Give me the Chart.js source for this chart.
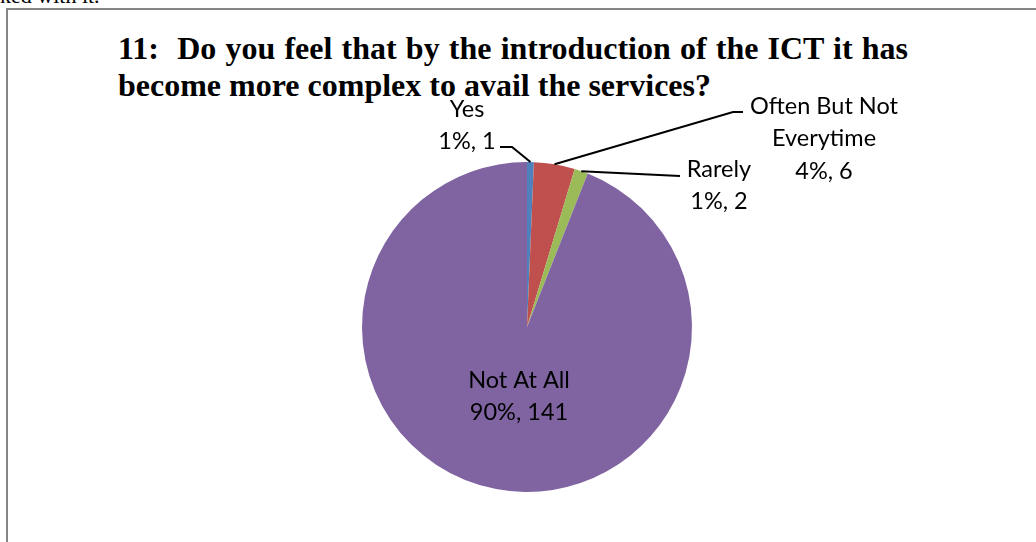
<!DOCTYPE html>
<html>
<head>
<meta charset="utf-8">
<script src="https://cdn.jsdelivr.net/npm/chart.js@4"></script>
<style>
    body { margin: 0; width: 1036px; height: 542px; overflow: hidden; background: #fff; position: relative; }
    #clipped { position: absolute; left: 0; top: -17px; font: 22px "Liberation Serif", serif; color: #000; }
    #frame { position: absolute; left: 6px; top: 8px; width: 1100px; height: 600px; border-left: 2px solid #858585; border-top: 2px solid #858585; }
    #title { position: absolute; left: 118px; top: 30px; width: 790px; font: bold 32px "Liberation Serif", serif; line-height: 37px; text-align: justify; text-align-last: left; color: #000; }
    canvas { position: absolute; left: 0; top: 0; }
</style>
</head>
<body>
<div id="clipped">ked with it.</div>
<div id="frame"></div>
<div id="title">11:&nbsp; Do you feel that by the introduction of the ICT it has become more complex to avail the services?</div>
<canvas id="pie" width="1036" height="542"></canvas>
<script>
// Chart data.
const categories = ["Yes", "Often But Not Everytime", "Rarely", "Not At All"];
const counts = [1, 6, 2, 141];
const percentLabels = ["1%", "4%", "1%", "90%"];
const colors = ["#4F81BD", "#C0504D", "#9BBB59", "#8064A2"];

// Where each data label sits, as an offset from the pie centre, and the leader line end points.
const labelSpots = [
    { lines: ["Yes", percentLabels[0] + ", " + counts[0]], dx: -60, dy: -218, leader: [[-15, -180], [-27, -180]] },
    { lines: ["Often But Not", "Everytime", percentLabels[1] + ", " + counts[1]], dx: 297, dy: -221, leader: [[206, -215], [216, -215]] },
    { lines: ["Rarely", percentLabels[2] + ", " + counts[2]], dx: 192, dy: -158, leader: [[153, -151]] },
    { lines: ["Not At All", percentLabels[3] + ", " + counts[3]], dx: -8, dy: 53, leader: null }
];

// Draws the Excel style data labels with leader lines.
const pieLabels = {
    id: "pieLabels",
    afterDatasetsDraw(chart) {
        const ctx = chart.ctx;
        const meta = chart.getDatasetMeta(0);
        ctx.save();
        meta.data.forEach((arc, i) => {
            const spot = labelSpots[i];
            const cx = arc.x, cy = arc.y;
            if (spot.leader) {
                const mid = (arc.startAngle + arc.endAngle) / 2;
                ctx.beginPath();
                ctx.moveTo(cx + Math.cos(mid) * arc.outerRadius, cy + Math.sin(mid) * arc.outerRadius);
                spot.leader.forEach(p => ctx.lineTo(cx + p[0], cy + p[1]));
                ctx.strokeStyle = "#000";
                ctx.lineWidth = 2;
                ctx.stroke();
            }
            ctx.fillStyle = "#000";
            ctx.font = "23.5px Lato, sans-serif";
            ctx.textAlign = "center";
            ctx.textBaseline = "middle";
            spot.lines.forEach((line, k) => {
                ctx.fillText(line, cx + spot.dx, cy + spot.dy + k * 32.5);
            });
        });
        ctx.restore();
    }
};

new Chart(document.getElementById("pie"), {
    type: "pie",
    data: {
        labels: categories,
        datasets: [{
            data: counts,
            backgroundColor: colors,
            borderWidth: 0
        }]
    },
    options: {
        responsive: false,
        animation: false,
        layout: { padding: { left: 362, right: 344, top: 162, bottom: 50 } },
        plugins: {
            legend: { display: false },
            tooltip: { enabled: false }
        }
    },
    plugins: [pieLabels]
});
</script>
</body>
</html>
